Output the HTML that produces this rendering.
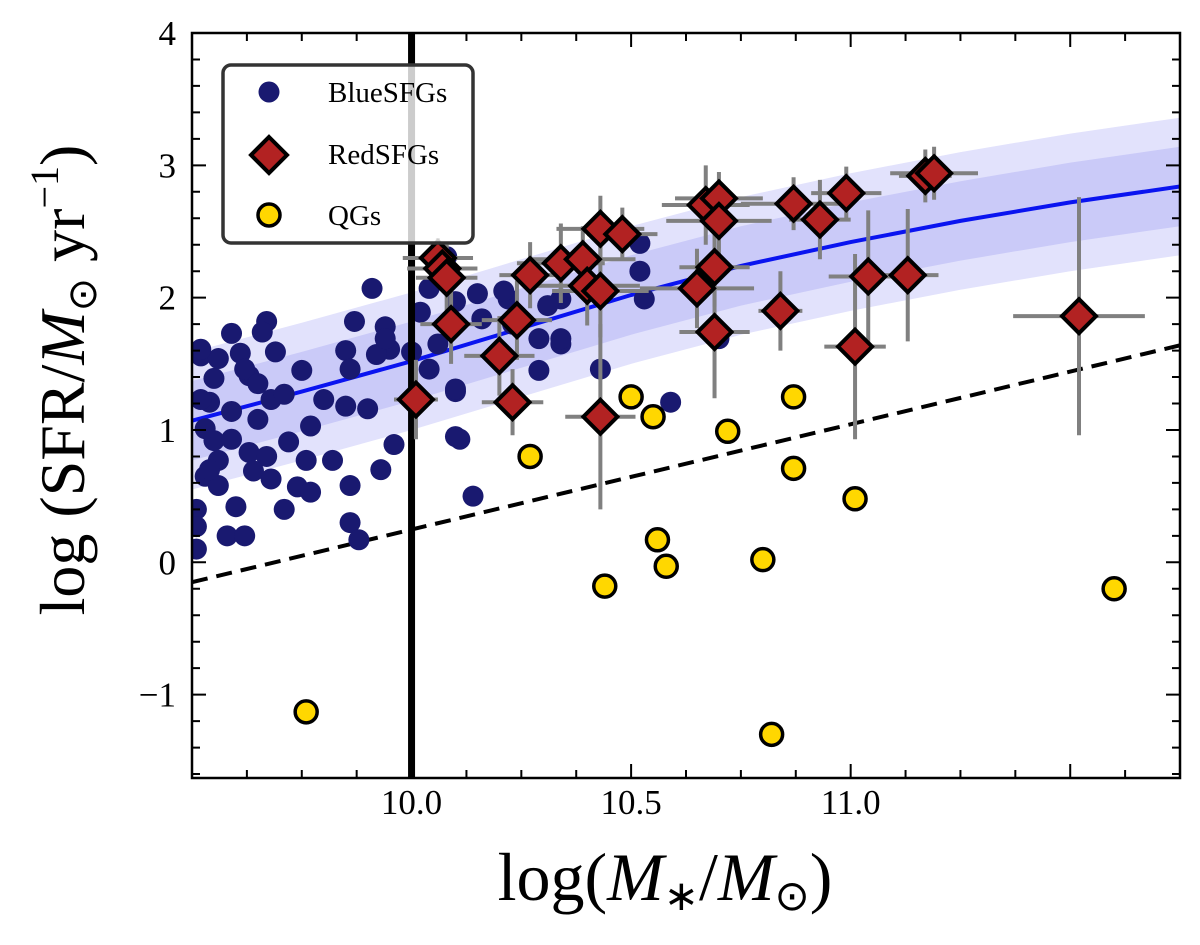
<!DOCTYPE html>
<html><head><meta charset="utf-8"><style>
html,body{margin:0;padding:0;background:#fff;}
svg{display:block;font-family:"Liberation Serif",serif;}
</style></head><body>
<svg id="chart" width="1200" height="945" viewBox="0 0 1200 945" xmlns="http://www.w3.org/2000/svg"></svg>
<script>
const blueMass=[9.91,9.87,9.94,9.67,9.66,9.85,9.95,9.92,9.61,9.69,9.52,9.56,9.75,9.86,9.63,9.80,9.85,9.90,9.68,9.54,9.59,9.65,9.77,9.55,9.72,9.96,9.63,9.67,9.56,9.76,9.82,10.10,10.10,9.93,9.53,9.64,9.56,9.68,9.74,9.77,9.86,9.60,9.71,9.51,10.14,9.86,9.88,9.58,9.62,9.51,9.51,
9.52,9.55,9.52,9.54,10.04,10.06,10.11,10.08,10.15,10.22,10.23,10.29,10.34,10.43,10.34,10.52,10.52,10.53,10.59,10.29,10.34,10.31,10.21,10.10,10.16,10.02,10.00,9.94,10.04,10.10,10.70,9.59,9.62,9.65,9.71,9.53,9.59];
const blueSFR=[2.07,1.82,1.78,1.82,1.74,1.60,1.61,1.57,1.58,1.59,1.56,1.54,1.45,1.46,1.41,1.23,1.18,1.16,1.23,1.21,1.14,1.08,1.03,0.92,0.91,0.89,0.83,0.80,0.77,0.77,0.77,0.95,1.29,0.70,0.65,0.69,0.58,0.63,0.57,0.53,0.58,0.42,0.40,0.40,0.50,0.30,0.17,0.20,0.20,0.10,0.27,
1.61,1.39,1.23,0.70,2.07,1.65,0.93,2.31,2.03,1.99,1.80,1.69,1.65,1.46,1.99,2.41,2.20,1.99,1.21,1.45,1.69,1.94,2.05,1.97,1.84,1.89,1.59,1.69,1.46,1.31,1.69,1.73,1.46,1.35,1.27,1.01,0.93];
const redMass=[10.01,10.06,10.07,10.08,10.09,10.20,10.23,10.24,10.27,10.34,10.39,10.40,10.43,10.43,10.43,10.48,10.65,10.67,10.70,10.70,10.69,10.69,10.84,10.87,10.93,10.99,11.01,11.04,11.13,11.17,11.19,11.52];
const redSFR=[1.23,2.30,2.22,2.15,1.80,1.56,1.21,1.83,2.17,2.26,2.29,2.09,2.05,2.52,1.10,2.48,2.07,2.70,2.75,2.58,2.23,1.74,1.90,2.71,2.59,2.79,1.63,2.16,2.17,2.92,2.94,1.86];
const redXerr=[0.05,0.08,0.08,0.07,0.07,0.08,0.07,0.08,0.07,0.1,0.12,0.12,0.11,0.1,0.08,0.08,0.13,0.1,0.1,0.12,0.08,0.08,0.05,0.12,0.07,0.08,0.07,0.09,0.07,0.06,0.1,0.15];
const redYerr=[0.3,0.15,0.15,0.25,0.3,0.3,0.25,0.3,0.25,0.3,0.25,0.3,0.35,0.25,0.7,0.2,0.3,0.3,0.2,0.3,0.3,0.5,0.3,0.2,0.3,0.2,0.7,0.5,0.5,0.2,0.2,0.9];
const qMass=[9.76,10.27,10.44,10.50,10.55,10.56,10.58,10.72,10.80,10.82,10.87,10.87,11.01,11.60];
const qSFR=[-1.13,0.80,-0.18,1.25,1.10,0.17,-0.03,0.99,0.02,-1.30,1.25,0.71,0.48,-0.20];
const msMass=[9.5,9.75,10.0,10.25,10.5,10.75,11.0,11.25,11.5,11.75];
const msSFR=[1.07,1.29,1.52,1.77,2.02,2.24,2.42,2.58,2.72,2.84];
const innerW=0.3, outerW=0.52;
const cutMass=[9.5,11.75], cutSFR=[-0.15,1.64];
const xTicks=[10.0,10.5,11.0], xTickLabels=["10.0","10.5","11.0"];
const yTicks=[-1,0,1,2,3,4], yTickLabels=["\u22121","0","1","2","3","4"];

const L=192,R=1180,T=33,B=778, X0=9.5,X1=11.75,Y0=-1.63,Y1=4.0;
const sx=v=>L+(v-X0)/(X1-X0)*(R-L);
const sy=v=>B-(v-Y0)/(Y1-Y0)*(B-T);
const svg=document.getElementById('chart');
const NS='http://www.w3.org/2000/svg';
function mk(tag,attrs,parent){const e=document.createElementNS(NS,tag);for(const k in attrs)e.setAttribute(k,attrs[k]);(parent||svg).appendChild(e);return e;}

const defs=mk('defs',{});
const cp=mk('clipPath',{id:'clip'},defs);mk('rect',{x:L,y:T,width:R-L,height:B-T},cp);
const g=mk('g',{'clip-path':'url(#clip)'});



function band(w,fill,name){
  let d='';msMass.forEach((m,i)=>{d+=(i?'L':'M')+sx(m)+','+sy(msSFR[i]+w);});
  for(let i=msMass.length-1;i>=0;i--)d+='L'+sx(msMass[i])+','+sy(msSFR[i]-w);
  const p=mk('path',{d:d+'Z',fill:fill,stroke:'none'},g);
  
  
}
band(outerW,'#e2e2fc','ms-outer-band');
band(innerW,'#cacaf8','ms-inner-band');
let md='';msMass.forEach((m,i)=>{md+=(i?'L':'M')+sx(m)+','+sy(msSFR[i]);});
const ml=mk('path',{d:md,fill:'none',stroke:'#0a14f0','stroke-width':4},g);


const cl=mk('line',{x1:sx(cutMass[0]),y1:sy(cutSFR[0]),x2:sx(cutMass[1]),y2:sy(cutSFR[1]),stroke:'#000','stroke-width':4,'stroke-dasharray':'16,9'},g);



blueMass.forEach((m,i)=>{
  const c=mk('circle',{cx:sx(m),cy:sy(blueSFR[i]),r:10.5,fill:'#191970'},g);
  
  
});
const vl=mk('line',{x1:sx(10),y1:T,x2:sx(10),y2:B,stroke:'#000','stroke-width':7},g);


redMass.forEach((m,i)=>{
  const x=sx(m),y=sy(redSFR[i]);
  const e=mk('path',{d:`M${sx(m-redXerr[i])},${y}H${sx(m+redXerr[i])}M${x},${sy(redSFR[i]-redYerr[i])}V${sy(redSFR[i]+redYerr[i])}`,stroke:'#808080','stroke-width':4,fill:'none'},g);
  
  
});
redMass.forEach((m,i)=>{
  const x=sx(m),y=sy(redSFR[i]),s=17;
  const p=mk('path',{d:`M${x},${y-s}L${x+s},${y}L${x},${y+s}L${x-s},${y}Z`,fill:'#b22222',stroke:'#000','stroke-width':4,'stroke-linejoin':'miter'},g);
  
  
});
qMass.forEach((m,i)=>{
  const c=mk('circle',{cx:sx(m),cy:sy(qSFR[i]),r:11,fill:'#ffd700',stroke:'#000','stroke-width':3.5},g);
  
  
});

const fr=mk('rect',{x:L,y:T,width:R-L,height:B-T,fill:'none',stroke:'#000','stroke-width':2.5});


let td='';
for(let v=9.5;v<=11.76;v+=0.125){const x=sx(v);const maj=Math.abs(v*2-Math.round(v*2))<1e-6;const l=maj?14:8;td+=`M${x},${B}V${B-l}M${x},${T}V${T+l}`;}
for(let v=-1.6;v<=4.01;v+=0.2){const y=sy(v);const maj=Math.abs(v-Math.round(v))<1e-6;const l=maj?14:8;td+=`M${L},${y}H${L+l}M${R},${y}H${R-l}`;}
const tk=mk('path',{d:td,stroke:'#000','stroke-width':2,fill:'none'});


xTicks.forEach((v,i)=>{
  const t=mk('text',{x:sx(v),y:814,'font-size':35,'text-anchor':'middle'});t.textContent=xTickLabels[i];
  
  
});
yTicks.forEach((v,i)=>{
  const t=mk('text',{x:176,y:sy(v)+12,'font-size':35,'text-anchor':'end'});t.textContent=yTickLabels[i];
  
  
});
</script>
<svg style="position:absolute;left:0;top:0" width="1200" height="945" xmlns="http://www.w3.org/2000/svg" font-family="Liberation Serif, serif">
<g>
<rect x="223" y="65" width="250" height="178" rx="8" fill="#fff" fill-opacity="0.8" stroke="#333" stroke-width="3.5"/>
<circle cx="269" cy="92" r="10.5" fill="#191970"/>
<text x="328" y="102" font-size="29">BlueSFGs</text>
<path d="M269,137L287,155L269,173L251,155Z" fill="#b22222" stroke="#000" stroke-width="4"/>
<text x="328" y="164" font-size="29">RedSFGs</text>
<circle cx="269" cy="215" r="11" fill="#ffd700" stroke="#000" stroke-width="3.5"/>
<text x="328" y="225" font-size="29">QGs</text>
</g>
<text x="665" y="900" font-size="68" text-anchor="middle">log(<tspan font-style="italic">M</tspan><tspan font-size="42" dy="10">∗</tspan><tspan dy="-10">/</tspan><tspan font-style="italic">M</tspan><tspan font-size="42" dy="10">⊙</tspan><tspan dy="-10">)</tspan></text>
<text transform="translate(84,380) rotate(-90)" font-size="64" text-anchor="middle">log (SFR/<tspan font-style="italic">M</tspan><tspan font-size="40" dy="12">⊙</tspan><tspan dy="-12"> yr</tspan><tspan font-size="40" dy="-26">−1</tspan><tspan dy="26">)</tspan></text>
</svg>
</body></html>
